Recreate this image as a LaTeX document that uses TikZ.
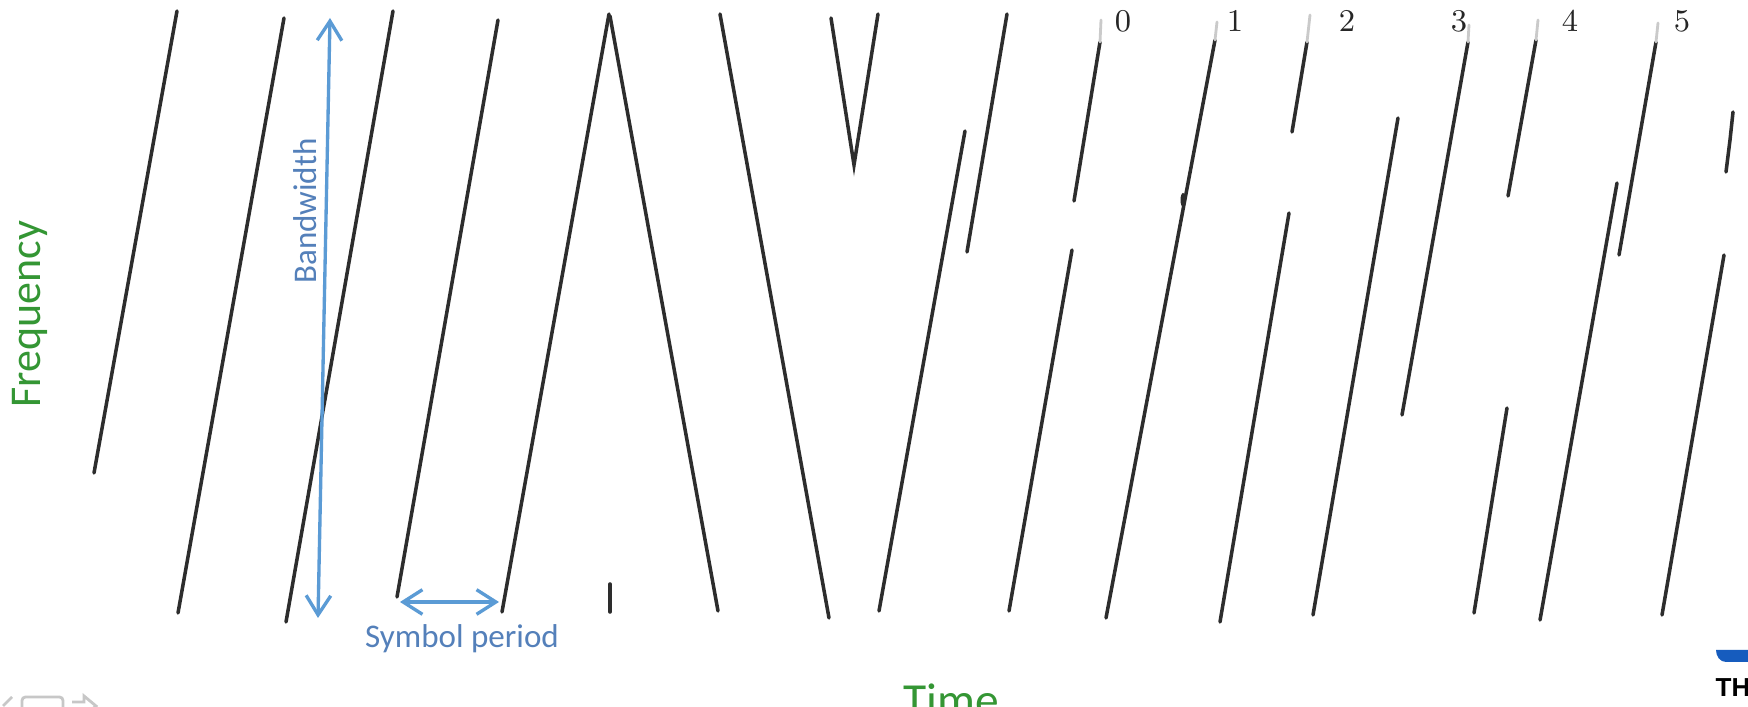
\documentclass[tikz,border=0pt]{standalone}
\usepackage{fontspec}
\newfontfamily\carlito{Carlito}
\newfontfamily\logofont{Liberation Sans}
\usetikzlibrary{arrows.meta}
\definecolor{chirp}{RGB}{45,45,45}
\definecolor{anno}{RGB}{91,155,213}
\definecolor{annotext}{RGB}{84,128,186}
\definecolor{axisgreen}{RGB}{52,150,52}
\definecolor{logoblue}{RGB}{22,92,190}
\tikzset{
  chirpline/.style={draw=chirp, line width=1pt, line cap=round},
  fadetop/.style={draw=chirp!25, line width=0.8pt, line cap=round},
  dimarrow/.style={draw=anno, line width=0.95pt,
    {Straight Barb[length=5.5pt,width=7pt]}-{Straight Barb[length=5.5pt,width=7pt]}},
  axislabel/.style={text=axisgreen, font=\carlito\fontsize{12.5}{14}\selectfont, inner sep=0pt},
  annolabel/.style={text=annotext, font=\carlito\fontsize{9.4}{11}\selectfont, inner sep=0pt},
  symlabel/.style={text=black!85, font=\fontsize{9}{10}\selectfont, inner sep=0pt, anchor=base},
  icon/.style={draw=black!22, line width=0.8pt}
}
\begin{document}
\begin{tikzpicture}[x=0.01cm,y=-0.01cm]
\useasboundingbox (0,0) rectangle (1748,707);
\fill[white] (0,0) rectangle (1748,707);
\clip (0,0) rectangle (1748,707);

% --- chirps: preamble
\draw[chirpline] (94,473) -- (177,11);
\draw[chirpline] (178,613) -- (284,18);
\draw[chirpline] (286,622) -- (393,11);
\draw[chirpline] (397,597) -- (498,20);
\draw[chirpline] (502,612) -- (609,14);
% --- down chirps
\draw[chirpline] (610,16) -- (718,611);
\draw[chirpline] (610,584) -- (610,612);
\draw[chirpline] (720,14) -- (829,618);
\draw[chirpline] (831,18) -- (854,165) -- (878,14);
% --- data symbols
\draw[chirpline] (879,611) -- (965,131);
\draw[chirpline] (967,252) -- (1007,14);
\draw[chirpline] (1009,611) -- (1072,250);
\draw[chirpline] (1074,201) -- (1100,42);
\draw[fadetop] (1100,42) -- (1101,20);
\draw[chirpline] (1106,618) -- (1215,40);
\draw[fadetop] (1215,40) -- (1217,22);
\fill[chirp] (1183,200) ellipse [x radius=2.5, y radius=7];
\draw[chirpline] (1292,132) -- (1307,42);
\draw[fadetop] (1307,42) -- (1310,15);
\draw[chirpline] (1220,622) -- (1289,213);
\draw[chirpline] (1313,615) -- (1398,118);
\draw[chirpline] (1402,415) -- (1468,42);
\draw[fadetop] (1468,42) -- (1469,25);
\draw[chirpline] (1474,613) -- (1507,408);
\draw[chirpline] (1508,196) -- (1536,40);
\draw[fadetop] (1536,40) -- (1538,20);
\draw[chirpline] (1540,620) -- (1617,183);
\draw[chirpline] (1619,255) -- (1656,42);
\draw[fadetop] (1656,42) -- (1658,23);
\draw[chirpline] (1662,615) -- (1724,255);
\draw[chirpline] (1726,172) -- (1730,140) -- (1733,112);

% --- symbol indices
\node[symlabel] (s0) at (1123,32) {0};
\node[symlabel] (s1) at (1235,32) {1};
\node[symlabel] (s2) at (1347,32) {2};
\node[symlabel] (s3) at (1459,32) {3};
\node[symlabel] (s4) at (1570,32) {4};
\node[symlabel] (s5) at (1682,32) {5};

% --- annotations
\coordinate (bwtop) at (330,18);
\coordinate (bwbot) at (318,618);
\draw[dimarrow] (bwbot) -- (bwtop);
\node[annolabel, rotate=90] (bw) at (305,211) {Bandwidth};
\coordinate (spl) at (400,602);
\coordinate (spr) at (499,602);
\draw[dimarrow] (spl) -- (spr);
\node[annolabel, anchor=base] (sp) at (462,648) {Symbol period};

\node[axislabel, rotate=90] (freq) at (30,314) {Frequency};
\node[axislabel, anchor=base, font=\carlito\fontsize{13.5}{15}\selectfont] (time) at (951,717) {Time};

% --- slide chrome (partly cut off)
\draw[icon] (3,706) -- (12,697);
\draw[icon, rounded corners=1pt] (22,697) rectangle (63,712);
\draw[icon] (72,702) -- (84,702) -- (84,696) -- (96,706) -- (84,716);
\fill[logoblue] (1716,650) -- (1748,650) -- (1748,662) -- (1726,662) to[out=180,in=270] (1716,650) -- cycle;
\node[anchor=base west, inner sep=0pt, font=\logofont\bfseries\fontsize{7.4}{9}\selectfont] (logo) at (1715,697) {TH};
\end{tikzpicture}
\end{document}
